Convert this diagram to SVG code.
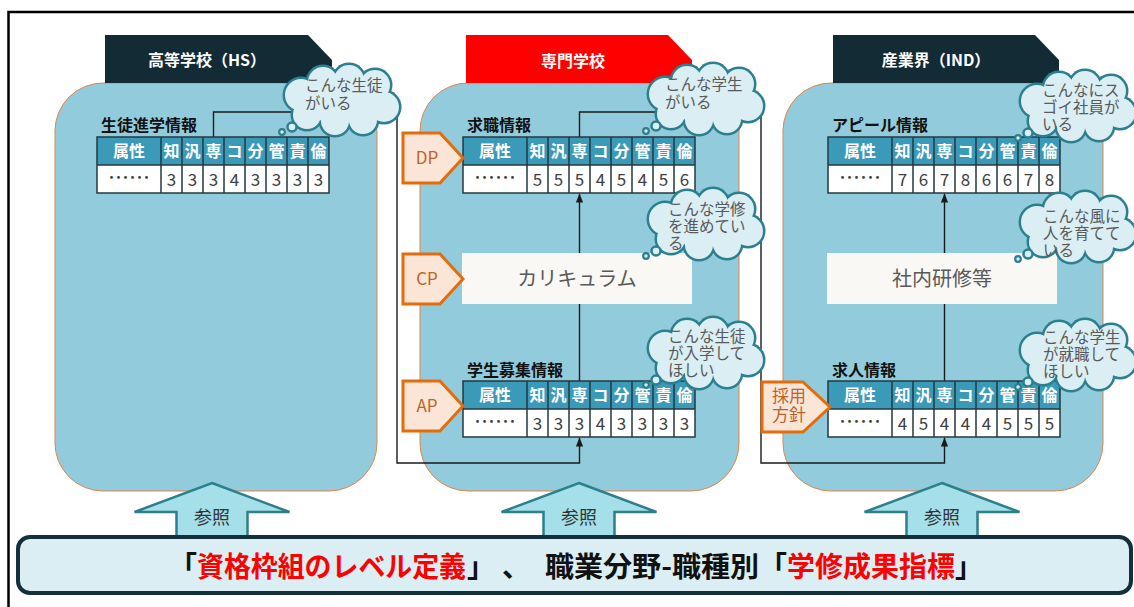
<svg xmlns="http://www.w3.org/2000/svg" width="1134" height="607" viewBox="0 0 1134 607" font-family="'Noto Sans CJK JP', 'Noto Sans', sans-serif">
<style>
.panel{fill:#92CCDC;stroke:#E2834A;stroke-width:1}
.tab{fill:#132B34}
.tabt{fill:#fff;font-size:16px;font-weight:bold;text-anchor:middle}
.lbl{fill:#111;font-size:16px;font-weight:bold}
.th{fill:#fff;font-size:16px;font-weight:bold;text-anchor:middle}
.td{fill:#404040;font-size:17px;text-anchor:middle}
.dots{fill:#404040;font-size:21px;text-anchor:middle}
.grid{stroke:#24383F;stroke-width:1.5;fill:none}
.conn{fill:none;stroke:#1A1A1A;stroke-width:1.4}
.tag{fill:#FBE5D6;stroke:#E46C0A;stroke-width:3}
.tagt{fill:#C0622A;font-size:17px;text-anchor:middle}
.box{fill:#FAF8F5}
.boxt{fill:#595959;font-size:20px;text-anchor:middle}
.ct{fill:#595959;font-size:15.5px}
.ref{fill:#A5DFE9;stroke:#2E7F8C;stroke-width:2.5}
.reft{fill:#333;font-size:18px;text-anchor:middle}
</style>
<defs>
<marker id="ah" viewBox="0 0 10 10" refX="10" refY="5" markerWidth="9" markerHeight="9" markerUnits="userSpaceOnUse" orient="auto">
<path d="M0,1 L10,5 L0,9 Z" fill="#1A1A1A"/>
</marker>
<g id="tblGrid">
<rect x="0" y="0" width="232" height="28" fill="#3A9AB8"/>
<rect x="0" y="28" width="232" height="28" fill="#fff"/>
<path class="grid" d="M0,0H232V56H0Z M0,28H232 M64,0V56 M85,0V56 M106,0V56 M127,0V56 M148,0V56 M169,0V56 M190,0V56 M211,0V56"/>
<text class="th" x="32" y="20">属性</text>
<text class="th" x="74.5" y="20">知</text>
<text class="th" x="95.5" y="20">汎</text>
<text class="th" x="116.5" y="20">専</text>
<text class="th" x="137.5" y="20">コ</text>
<text class="th" x="158.5" y="20">分</text>
<text class="th" x="179.5" y="20">管</text>
<text class="th" x="200.5" y="20">責</text>
<text class="th" x="221.5" y="20">倫</text>
<text class="dots" x="32" y="48">……</text>
</g>
<g id="cloud">
<g fill="#2C7F8E">
<circle cx="18" cy="30" r="18.5"/><circle cx="40" cy="17" r="17.5"/><circle cx="66" cy="15" r="17.5"/><circle cx="92" cy="20" r="17.5"/>
<circle cx="101" cy="42" r="17.5"/><circle cx="80" cy="55" r="16.5"/><circle cx="52" cy="56" r="16.5"/><circle cx="24" cy="50" r="16.5"/>
<ellipse cx="58" cy="36" rx="46.5" ry="24.5"/>
</g>
<g fill="#DAEEF3">
<circle cx="18" cy="30" r="16"/><circle cx="40" cy="17" r="15"/><circle cx="66" cy="15" r="15"/><circle cx="92" cy="20" r="15"/>
<circle cx="101" cy="42" r="15"/><circle cx="80" cy="55" r="14"/><circle cx="52" cy="56" r="14"/><circle cx="24" cy="50" r="14"/>
<ellipse cx="58" cy="36" rx="44" ry="22"/>
</g>
<circle cx="9" cy="62" r="4.5" fill="#DAEEF3" stroke="#2C7F8E" stroke-width="2.5"/>
<circle cx="-1" cy="67" r="2.8" fill="#DAEEF3" stroke="#2C7F8E" stroke-width="2.2"/>
</g>
<polygon id="tagShape" class="tag" points="0,0 37,0 60,25 37,50 0,50"/>
<polygon id="refArrow" class="ref" points="0,0 77.5,29 35.5,29 35.5,60 -35.5,60 -35.5,29 -77.5,29"/>
</defs>

<rect width="1134" height="607" fill="#fff"/>
<path d="M8.5,607 V12 H1134" fill="none" stroke="#000" stroke-width="2.5"/>

<!-- panels -->
<g id="panel-hs"><rect class="panel" x="55" y="83" width="322" height="408" rx="48" ry="48"/></g>
<g id="panel-school"><rect class="panel" x="420" y="83" width="319" height="408" rx="48" ry="48"/></g>
<g id="panel-ind"><rect class="panel" x="783" y="83" width="320" height="408" rx="48" ry="48"/></g>

<!-- header tabs -->
<g id="tab-hs"><polygon class="tab" points="105,35 308,35 332,60 332,83 105,83"/><text class="tabt" x="207" y="66">高等学校（HS）</text></g>
<g id="tab-school"><polygon points="466,35 668,35 692,60 692,83 466,83" fill="#FF0000"/><text class="tabt" x="573" y="67" font-size="17">専門学校</text></g>
<g id="tab-ind"><polygon class="tab" points="833,35 1035,35 1059,60 1059,83 833,83"/><text class="tabt" x="936" y="66">産業界（IND）</text></g>

<!-- connectors -->
<g id="connectors">
<path class="conn" d="M213.5,137 V112 H397 V463 H579.5 V437.5" marker-end="url(#ah)"/>
<path class="conn" d="M579.5,137 V112 H761 V463 H944.5 V437.5" marker-end="url(#ah)"/>
<path class="conn" d="M579.5,381 V193.5" marker-end="url(#ah)"/>
<path class="conn" d="M944.5,381 V193.5" marker-end="url(#ah)"/>
</g>

<!-- tables -->
<g id="tbl-hs">
<text class="lbl" x="101" y="131">生徒進学情報</text>
<g transform="translate(97,137)"><use href="#tblGrid"/>
<text class="td" x="74.5" y="49">3</text><text class="td" x="95.5" y="49">3</text><text class="td" x="116.5" y="49">3</text><text class="td" x="137.5" y="49">4</text><text class="td" x="158.5" y="49">3</text><text class="td" x="179.5" y="49">3</text><text class="td" x="200.5" y="49">3</text><text class="td" x="221.5" y="49">3</text>
</g></g>
<g id="tbl-dp">
<text class="lbl" x="467" y="131">求職情報</text>
<g transform="translate(463,137)"><use href="#tblGrid"/>
<text class="td" x="74.5" y="49">5</text><text class="td" x="95.5" y="49">5</text><text class="td" x="116.5" y="49">5</text><text class="td" x="137.5" y="49">4</text><text class="td" x="158.5" y="49">5</text><text class="td" x="179.5" y="49">4</text><text class="td" x="200.5" y="49">5</text><text class="td" x="221.5" y="49">6</text>
</g></g>
<g id="tbl-ap">
<text class="lbl" x="467" y="376">学生募集情報</text>
<g transform="translate(463,381)"><use href="#tblGrid"/>
<text class="td" x="74.5" y="49">3</text><text class="td" x="95.5" y="49">3</text><text class="td" x="116.5" y="49">3</text><text class="td" x="137.5" y="49">4</text><text class="td" x="158.5" y="49">3</text><text class="td" x="179.5" y="49">3</text><text class="td" x="200.5" y="49">3</text><text class="td" x="221.5" y="49">3</text>
</g></g>
<g id="tbl-appeal">
<text class="lbl" x="832" y="131">アピール情報</text>
<g transform="translate(828,137)"><use href="#tblGrid"/>
<text class="td" x="74.5" y="49">7</text><text class="td" x="95.5" y="49">6</text><text class="td" x="116.5" y="49">7</text><text class="td" x="137.5" y="49">8</text><text class="td" x="158.5" y="49">6</text><text class="td" x="179.5" y="49">6</text><text class="td" x="200.5" y="49">7</text><text class="td" x="221.5" y="49">8</text>
</g></g>
<g id="tbl-job">
<text class="lbl" x="832" y="376">求人情報</text>
<g transform="translate(828,381)"><use href="#tblGrid"/>
<text class="td" x="74.5" y="49">4</text><text class="td" x="95.5" y="49">5</text><text class="td" x="116.5" y="49">4</text><text class="td" x="137.5" y="49">4</text><text class="td" x="158.5" y="49">4</text><text class="td" x="179.5" y="49">5</text><text class="td" x="200.5" y="49">5</text><text class="td" x="221.5" y="49">5</text>
</g></g>

<!-- process boxes -->
<g id="box-curriculum"><rect class="box" x="462" y="253" width="230" height="51"/><text class="boxt" x="577" y="286">カリキュラム</text></g>
<g id="box-training"><rect class="box" x="827" y="253" width="230" height="51"/><text class="boxt" x="942" y="286">社内研修等</text></g>

<!-- tags -->
<g id="tag-dp"><use href="#tagShape" x="403" y="133"/><text class="tagt" x="427" y="164">DP</text></g>
<g id="tag-cp"><use href="#tagShape" x="403" y="254"/><text class="tagt" x="427" y="285">CP</text></g>
<g id="tag-ap"><use href="#tagShape" x="403" y="381"/><text class="tagt" x="427" y="412">AP</text></g>
<g id="tag-hire"><polygon class="tag" points="762,382 803,382 830,407 803,432 762,432"/>
<text class="tagt" x="789" y="402" font-size="16">採用</text><text class="tagt" x="789" y="421" font-size="16">方針</text></g>

<!-- clouds -->
<g id="cloud-1"><use href="#cloud" x="283" y="65"/><text class="ct"><tspan x="305" y="91">こんな生徒</tspan><tspan x="305" y="109">がいる</tspan></text></g>
<g id="cloud-2"><use href="#cloud" x="647" y="64"/><text class="ct"><tspan x="665" y="90">こんな学生</tspan><tspan x="665" y="108">がいる</tspan></text></g>
<g id="cloud-3"><use href="#cloud" x="1019" y="71"/><text class="ct"><tspan x="1042" y="96">こんなにス</tspan><tspan x="1042" y="113">ゴイ社員が</tspan><tspan x="1042" y="130">いる</tspan></text></g>
<g id="cloud-4"><use href="#cloud" x="647" y="189"/><text class="ct"><tspan x="668" y="215">こんな学修</tspan><tspan x="668" y="232">を進めてい</tspan><tspan x="668" y="249">る</tspan></text></g>
<g id="cloud-5"><use href="#cloud" x="647" y="318"/><text class="ct"><tspan x="668" y="342">こんな生徒</tspan><tspan x="668" y="359">が入学して</tspan><tspan x="668" y="376">ほしい</tspan></text></g>
<g id="cloud-6"><use href="#cloud" x="1019" y="192"/><text class="ct"><tspan x="1043" y="222">こんな風に</tspan><tspan x="1043" y="239">人を育てて</tspan><tspan x="1043" y="256">いる</tspan></text></g>
<g id="cloud-7"><use href="#cloud" x="1019" y="320"/><text class="ct"><tspan x="1043" y="343">こんな学生</tspan><tspan x="1043" y="360">が就職して</tspan><tspan x="1043" y="377">ほしい</tspan></text></g>

<!-- reference arrows -->
<g id="ref-1"><use href="#refArrow" x="212" y="483"/><text class="reft" x="212" y="524">参照</text></g>
<g id="ref-2"><use href="#refArrow" x="579" y="483"/><text class="reft" x="579" y="524">参照</text></g>
<g id="ref-3"><use href="#refArrow" x="942" y="483"/><text class="reft" x="942" y="524">参照</text></g>

<!-- bottom bar -->
<g id="bar">
<rect x="18" y="537" width="1113" height="56" rx="12" ry="12" fill="#DAEEF3" stroke="#14303A" stroke-width="4"/>
<text y="577" font-size="28" font-weight="bold" fill="#111"><tspan x="169">「</tspan><tspan x="197" fill="#FF0000" textLength="269" lengthAdjust="spacingAndGlyphs">資格枠組のレベル定義</tspan><tspan x="467">」</tspan><tspan x="502">、</tspan><tspan x="545" textLength="214" lengthAdjust="spacingAndGlyphs">職業分野-職種別</tspan><tspan x="759">「</tspan><tspan x="787" fill="#FF0000" textLength="168" lengthAdjust="spacingAndGlyphs">学修成果指標</tspan><tspan x="955">」</tspan></text>
</g>
</svg>
